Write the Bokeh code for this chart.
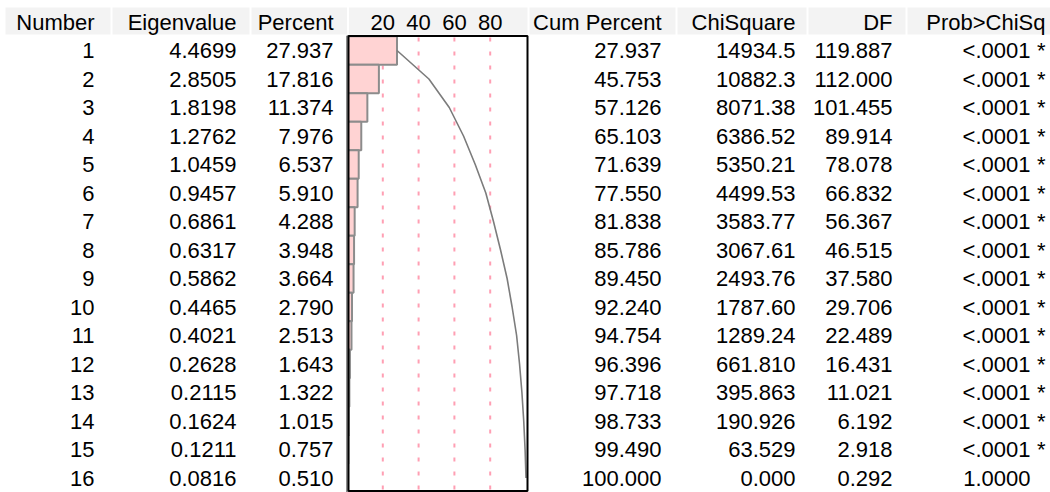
from bokeh.plotting import figure
from bokeh.models import Range1d, ColumnDataSource
from bokeh.embed import file_html
from bokeh.resources import INLINE
from bokeh.core.properties import value

# ---------------- data ----------------
numbers = list(range(1, 17))
eigenvalues = [4.4699, 2.8505, 1.8198, 1.2762, 1.0459, 0.9457, 0.6861, 0.6317,
               0.5862, 0.4465, 0.4021, 0.2628, 0.2115, 0.1624, 0.1211, 0.0816]
percents = [27.937, 17.816, 11.374, 7.976, 6.537, 5.910, 4.288, 3.948,
            3.664, 2.790, 2.513, 1.643, 1.322, 1.015, 0.757, 0.510]
cum_percents = [27.937, 45.753, 57.126, 65.103, 71.639, 77.550, 81.838, 85.786,
                89.450, 92.240, 94.754, 96.396, 97.718, 98.733, 99.490, 100.000]
chisquares = [14934.5, 10882.3, 8071.38, 6386.52, 5350.21, 4499.53, 3583.77, 3067.61,
              2493.76, 1787.60, 1289.24, 661.810, 395.863, 190.926, 63.529, 0.000]
dfs = [119.887, 112.000, 101.455, 89.914, 78.078, 66.832, 56.367, 46.515,
       37.580, 29.706, 22.489, 16.431, 11.021, 6.192, 2.918, 0.292]
probs = ["<.0001"] * 15 + ["1.0000"]
signif = [True] * 15 + [False]
headers = ["Number", "Eigenvalue", "Percent", "Cum Percent", "ChiSquare", "DF", "Prob>ChiSq"]
ticks = [20, 40, 60, 80]

# ---------------- layout helpers (reference pixel -> data units) ----------------
PX_PER_PCT = 1.79
X0 = 346.5
ROW_PITCH = 28.5
ROW1_Y = 50.0
W, H = 1050, 492


def px(xref):
    return (xref - X0) / PX_PER_PCT


def rowpos(yref):
    return (yref - ROW1_Y) / ROW_PITCH + 1


def chi_fmt(v):
    if v >= 100:
        digits = len(str(int(v)))
        return f"{v:.{6 - digits}f}"
    return f"{v:.3f}"


FONT = value("Liberation Sans")
FSIZE = "22px"

p = figure(width=W, height=H,
           x_range=Range1d(px(0), px(W)),
           y_range=Range1d(rowpos(H), rowpos(0)),
           x_axis_type=None, y_axis_type=None,
           output_backend="svg", toolbar_location=None, min_border=0)
p.grid.visible = False
p.outline_line_color = None
p.background_fill_color = "white"
p.border_fill_color = "white"

# header bands
cells = [(5, 110), (112, 249), (251, 346.5), (348.5, 527), (529, 675), (677, 806), (808, 905), (907, 1050)]
p.quad(left=[px(a) for a, b in cells], right=[px(b) for a, b in cells],
       top=rowpos(7), bottom=rowpos(34), fill_color="#f3f3f3", line_color=None)

# box background
box_l, box_r, box_t, box_b = px(348), px(527), rowpos(35.5), rowpos(490.5)
p.quad(left=[box_l], right=[box_r], top=[box_t], bottom=[box_b],
       fill_color="white", line_color=None)

# dotted grid lines inside the box
p.segment(x0=ticks, x1=ticks, y0=[rowpos(37)] * len(ticks), y1=[box_b] * len(ticks),
          line_color="#ff9fb3", line_width=2, line_dash="4 10")

# bars
bar_src = ColumnDataSource(dict(
    left=[0] * len(percents), right=percents,
    top=[n - 0.5 for n in numbers], bottom=[n + 0.5 for n in numbers]))
p.quad(left="left", right="right", top="top", bottom="bottom", source=bar_src,
       fill_color="#ffd3d3", line_color="#8c8c8c", line_width=2)

# cumulative curve
p.line(x=cum_percents, y=numbers, line_color="#7c7c7c", line_width=1.6)

# box outline
p.quad(left=[box_l], right=[box_r], top=[box_t], bottom=[box_b],
       fill_color=None, line_color="black", line_width=2)

# tick labels in header
p.text(x=ticks, y=[0] * len(ticks), text=[str(t) for t in ticks],
       text_align="center", text_baseline="middle",
       text_font=FONT, text_font_size=FSIZE, text_color="black")

# column headers and values
col_right = [94, 236, 333, 661, 795, 892, 1045]
p.text(x=[px(r) for r in col_right], y=[0] * len(headers), text=headers,
       text_align="right", text_baseline="middle",
       text_font=FONT, text_font_size=FSIZE, text_color="black")

columns = [
    [str(n) for n in numbers],
    [f"{v:.4f}" for v in eigenvalues],
    [f"{v:.3f}" for v in percents],
    [f"{v:.3f}" for v in cum_percents],
    [chi_fmt(v) for v in chisquares],
    [f"{v:.3f}" for v in dfs],
]
for right, col in zip(col_right[:6], columns):
    p.text(x=[px(right)] * len(col), y=numbers, text=col,
           text_align="right", text_baseline="middle",
           text_font=FONT, text_font_size=FSIZE, text_color="black")

p.text(x=[px(1030)] * len(probs), y=numbers, text=probs,
       text_align="right", text_baseline="middle",
       text_font=FONT, text_font_size=FSIZE, text_color="black")
star_rows = [n for n, s in zip(numbers, signif) if s]
p.text(x=[px(1045)] * len(star_rows), y=star_rows, text=["*"] * len(star_rows),
       text_align="right", text_baseline="middle",
       text_font=FONT, text_font_size=FSIZE, text_color="black")

open("out.html", "w").write(file_html(p, INLINE))
